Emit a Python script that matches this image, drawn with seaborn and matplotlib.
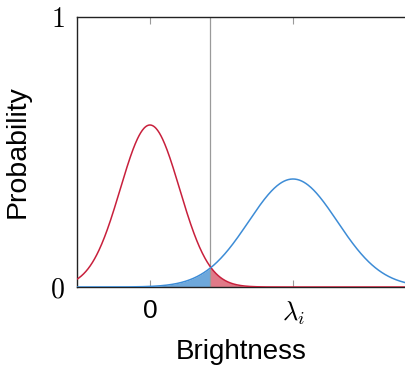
import numpy as np
import pandas as pd
import matplotlib
matplotlib.use("Agg")
import matplotlib.pyplot as plt
import seaborn as sns

# Two brightness distributions: background (centred at 0) and signal (centred at lambda_i)
names = ["background", "signal"]
means = [0.0, 1.0]
peaks = [0.60, 0.40]
widths = [0.207, 0.31]
line_colors = ["#C8203C", "#3D8CD6"]
fill_colors = ["#E07A88", "#6EA8DB"]
threshold = 0.42

x_ticks = [0.0, 1.0]
x_tick_labels = ["0", r"$\lambda_i$"]
y_ticks = [0, 1]
y_tick_labels = [r"$0$", r"$1$"]

x_min, x_max = -0.51, 1.79
xs = np.linspace(x_min, x_max, 600)
frames = []
for n, m, p, w in zip(names, means, peaks, widths):
    frames.append(pd.DataFrame({"x": xs, "y": p * np.exp(-(xs - m) ** 2 / (2 * w ** 2)), "dist": n}))
df = pd.concat(frames, ignore_index=True)

sns.set_theme(style="white")
plt.rcParams["font.family"] = ["Liberation Sans", "DejaVu Sans"]
plt.rcParams["mathtext.fontset"] = "cm"
plt.rcParams["text.color"] = "black"
plt.rcParams["axes.labelcolor"] = "black"
plt.rcParams["xtick.labelcolor"] = "black"
plt.rcParams["ytick.labelcolor"] = "black"

fig = plt.figure(figsize=(4.06, 3.65), dpi=100)
ax = fig.add_axes([77 / 406, 78 / 365, 1 - 77 / 406, (287 - 17) / 365])

bg = df[df.dist == "background"]
sg = df[df.dist == "signal"]
# shaded error regions on each side of the threshold
ax.fill_between(sg.x, 0, sg.y, where=sg.x <= threshold, color=fill_colors[1], lw=0, zorder=1)
ax.fill_between(bg.x, 0, bg.y, where=bg.x >= threshold, color=fill_colors[0], lw=0, zorder=1)

ax.axvline(threshold, color="#9A9A9A", lw=0.9, zorder=2)

sns.lineplot(data=df, x="x", y="y", hue="dist", palette=dict(zip(names, line_colors)),
             lw=1.1, legend=False, ax=ax, zorder=3)

ax.set_xlim(x_min, x_max)
ax.set_ylim(0, 1)
ax.set_xticks(x_ticks)
ax.set_xticklabels(x_tick_labels, fontsize=19)
ax.set_yticks(y_ticks)
ax.set_yticklabels(y_tick_labels, fontsize=20)
ax.tick_params(axis="x", direction="in", length=5, width=0.8, color="#9A9A9A",
               top=True, bottom=True, pad=9)
ax.tick_params(axis="y", length=0, pad=9)

for side in ["left", "top", "bottom"]:
    ax.spines[side].set_color("#222222")
    ax.spines[side].set_linewidth(1.0)
ax.spines["right"].set_visible(False)

ax.set_xlabel("Brightness", fontsize=20, labelpad=9)
ax.set_ylabel("Probability", fontsize=20.5, labelpad=14)

fig.savefig("out.png", dpi=100)
